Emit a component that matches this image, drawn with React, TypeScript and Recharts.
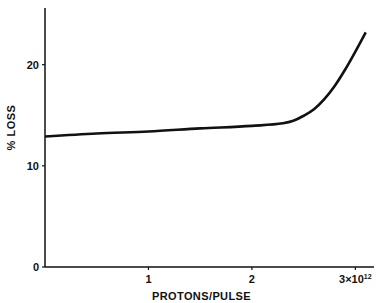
import { LineChart, Line, XAxis, YAxis, Label } from 'recharts';

// protons per pulse (units of 10^12) vs % loss
const protons = [0, 0.5, 1.0, 1.5, 2.0, 2.3, 2.4, 2.5, 2.6, 2.7, 2.8, 2.9, 3.0, 3.1];
const loss = [12.9, 13.2, 13.4, 13.7, 13.95, 14.2, 14.45, 14.95, 15.6, 16.6, 17.9, 19.5, 21.3, 23.2];

const xTicks = [1, 2, 3];
const yTicks = [0, 10, 20];

const data = protons.map((p, i) => ({ p, loss: loss[i] }));

const font = "'Liberation Sans', Arial, sans-serif";

const XTick = (props: any) => {
  const { x, y, payload } = props;
  return (
    <text x={x} y={y + 11} textAnchor="middle" fontFamily={font} fontWeight="bold" fontSize={11} fill="#111">
      {payload.value === 3 ? (
        <>
          <tspan>3×10</tspan>
          <tspan dy={-4} fontSize={7}>12</tspan>
        </>
      ) : (
        payload.value
      )}
    </text>
  );
};

export default function App() {
  return (
    <div style={{ position: 'absolute', left: 0, top: 0, background: '#fff' }}>
      <LineChart width={379} height={303} data={data} margin={{ top: 8, right: 5, left: 0, bottom: 0 }}>
        <XAxis
          dataKey="p"
          type="number"
          domain={[0, 3.18]}
          ticks={xTicks}
          allowDataOverflow
          height={36}
          axisLine={{ stroke: '#111', strokeWidth: 1.5 }}
          tickLine={{ stroke: '#111', strokeWidth: 1.2 }}
          tickSize={3}
          tick={<XTick />}
        >
          <Label
            value="PROTONS/PULSE"
            position="insideBottom"
            offset={3}
            dx={-8}
            style={{ fontFamily: font, fontWeight: 'bold', fontSize: 11, fill: '#111', letterSpacing: 0.4 }}
          />
        </XAxis>
        <YAxis
          type="number"
          domain={[0, 25.6]}
          ticks={yTicks}
          allowDataOverflow
          width={45}
          axisLine={{ stroke: '#111', strokeWidth: 1.5 }}
          tickLine={{ stroke: '#111', strokeWidth: 1.2 }}
          tickSize={3}
          tickMargin={3}
          tick={{ fontFamily: font, fontWeight: 'bold', fontSize: 11, fill: '#111' }}
        >
          <Label
            value="% LOSS"
            angle={-90}
            position="insideLeft"
            offset={11}
            dy={-10}
            style={{ fontFamily: font, fontWeight: 'bold', fontSize: 11, fill: '#111', textAnchor: 'middle', letterSpacing: 0.5 }}
          />
        </YAxis>
        <Line
          type="monotone"
          dataKey="loss"
          stroke="#111"
          strokeWidth={2.6}
          dot={false}
          activeDot={false}
          isAnimationActive={false}
        />
      </LineChart>
    </div>
  );
}
